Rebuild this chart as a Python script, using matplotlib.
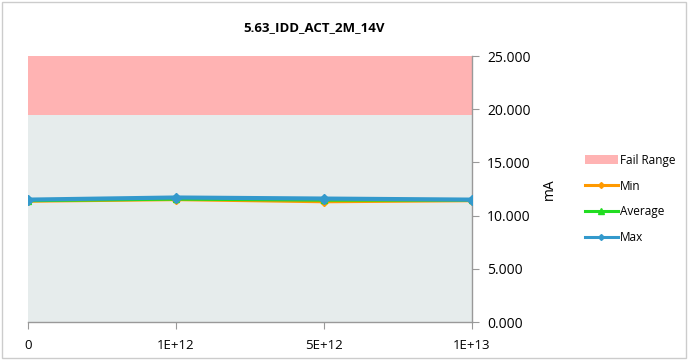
import matplotlib
matplotlib.use("Agg")
import matplotlib.pyplot as plt
from matplotlib.patches import Patch, Rectangle
from matplotlib.lines import Line2D

plt.rcParams['font.family'] = ['Open Sans', 'DejaVu Sans']

categories = ["0", "1E+12", "5E+12", "1E+13"]
min_vals = [11.35, 11.50, 11.30, 11.40]
avg_vals = [11.40, 11.55, 11.45, 11.45]
max_vals = [11.50, 11.70, 11.60, 11.50]
pass_limit = 19.5
fail_limit = 25.0
y_ticks = [0, 5, 10, 15, 20, 25]

fig = plt.figure(figsize=(6.88, 3.6), dpi=100)
fig.patches.append(Rectangle((0.003, 0.006), 0.994, 0.988, transform=fig.transFigure,
                             fill=False, edgecolor="#cccccc", linewidth=1.0))
ax = fig.add_axes([28/688, 1 - 322/360, 444/688, 266/360])

x = list(range(len(categories)))
ax.fill_between(x, 0, [pass_limit]*len(x), color="#e6ecec", linewidth=0, zorder=1)
ax.fill_between(x, [pass_limit]*len(x), [fail_limit]*len(x), color="#ffb3b3", linewidth=0, zorder=1)

ax.plot(x, min_vals, color="#ff9900", marker="D", markersize=4, linewidth=2.2, zorder=3)
ax.plot(x, avg_vals, color="#22dd22", marker="^", markersize=5, linewidth=2.2, zorder=4)
ax.plot(x, max_vals, color="#3399cc", marker="D", markersize=5, linewidth=3.0, zorder=5)

ax.set_xlim(0, 3)
ax.set_ylim(0, 25)
ax.set_xticks(x)
ax.set_xticklabels(categories, fontsize=9.5)
ax.set_yticks(y_ticks)
ax.set_yticklabels([f"{v:.3f}" for v in y_ticks], fontsize=10)
ax.yaxis.tick_right()
ax.yaxis.set_label_position("right")
ax.set_ylabel("mA", fontsize=10, labelpad=8)
for s in ["left", "top"]:
    ax.spines[s].set_visible(False)
for s in ["right", "bottom"]:
    ax.spines[s].set_color("#999999")
    ax.spines[s].set_linewidth(1.0)
ax.tick_params(axis="both", colors="#999999", labelcolor="black", length=5, width=0.8)
ax.tick_params(axis="x", pad=7)
ax.tick_params(axis="y", pad=6)
ax.set_facecolor("white")

fig.text(314/688, 1 - 28/360, "5.63_IDD_ACT_2M_14V", ha="center", va="center",
         fontsize=9.5, fontweight="bold")

handles = [
    Patch(facecolor="#ffb3b3", edgecolor="none"),
    Line2D([], [], color="#ff9900", marker="D", markersize=3, linewidth=2.2),
    Line2D([], [], color="#22dd22", marker="^", markersize=4, linewidth=2.2),
    Line2D([], [], color="#3399cc", marker="D", markersize=3, linewidth=2.2),
]
labels = ["Fail Range", "Min", "Average", "Max"]
fig.legend(handles, labels, loc="center left", bbox_to_anchor=(580/688, 1 - 199/360),
           frameon=False, fontsize=8.5, handlelength=2.8, handletextpad=0.15,
           labelspacing=1.1, borderaxespad=0)

fig.savefig("out.png", dpi=100)
